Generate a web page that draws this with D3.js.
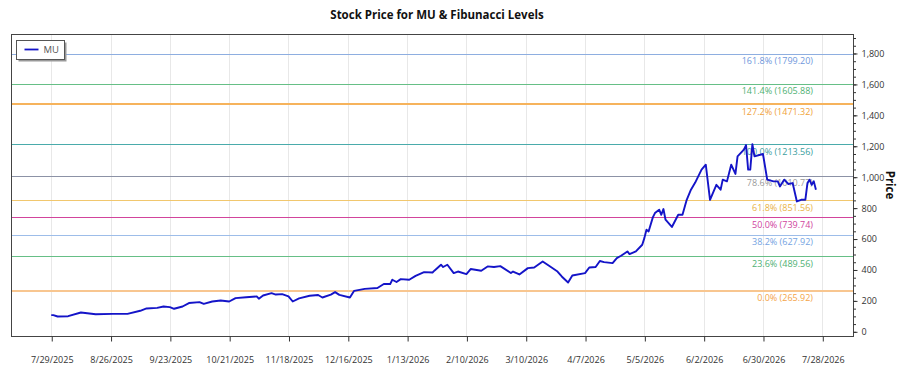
<!DOCTYPE html>
<meta charset="utf-8">
<script src="https://d3js.org/d3.v7.min.js"></script>
<style>
  body { margin: 0; background: #fff; }
  text { font-family: "Open Sans", "Noto Sans", sans-serif; }
</style>
<svg id="chart" width="900" height="375"></svg>
<script>

// price series
const dates = [
  "2025-07-29","2025-07-30","2025-08-01","2025-08-06","2025-08-12","2025-08-19","2025-08-27","2025-09-03",
  "2025-09-09","2025-09-12","2025-09-17","2025-09-20","2025-09-23","2025-09-25","2025-09-29","2025-10-02",
  "2025-10-07","2025-10-09","2025-10-13","2025-10-17","2025-10-21","2025-10-24","2025-10-29","2025-11-03",
  "2025-11-04","2025-11-06","2025-11-10","2025-11-12","2025-11-15","2025-11-18","2025-11-20","2025-11-23",
  "2025-11-28","2025-12-02","2025-12-04","2025-12-08","2025-12-10","2025-12-12","2025-12-17","2025-12-19",
  "2025-12-24","2025-12-30","2026-01-02","2026-01-05","2026-01-06","2026-01-08","2026-01-10","2026-01-14",
  "2026-01-17","2026-01-21","2026-01-25","2026-01-26","2026-01-29","2026-01-30","2026-02-01","2026-02-04",
  "2026-02-06","2026-02-10","2026-02-12","2026-02-17","2026-02-20","2026-02-23","2026-02-26","2026-03-03",
  "2026-03-04","2026-03-07","2026-03-11","2026-03-14","2026-03-18","2026-03-21","2026-03-25","2026-03-27",
  "2026-03-30","2026-04-01","2026-04-07","2026-04-09","2026-04-12","2026-04-14","2026-04-16","2026-04-20",
  "2026-04-22","2026-04-24","2026-04-27","2026-04-28","2026-05-01","2026-05-04","2026-05-05","2026-05-06",
  "2026-05-07","2026-05-09","2026-05-10","2026-05-12","2026-05-13","2026-05-14","2026-05-15","2026-05-18",
  "2026-05-21","2026-05-23","2026-05-25","2026-05-27","2026-05-29","2026-06-01","2026-06-03","2026-06-05",
  "2026-06-08","2026-06-10","2026-06-11","2026-06-13","2026-06-15","2026-06-17","2026-06-18","2026-06-21",
  "2026-06-22","2026-06-23","2026-06-24","2026-06-25","2026-06-26","2026-06-30","2026-07-02","2026-07-05",
  "2026-07-07","2026-07-08","2026-07-10","2026-07-12","2026-07-14","2026-07-16","2026-07-18","2026-07-20",
  "2026-07-21","2026-07-22","2026-07-23","2026-07-24","2026-07-25"
];
const prices = [
  108,108,99,101,125,114,116,116,
  136,151,155,164,160,149,164,186,
  192,181,196,203,196,218,224,229,
  214,235,250,241,244,229,196,216,
  233,238,222,241,257,239,222,265,
  278,283,309,309,337,322,341,337,
  362,386,384,397,434,419,434,380,
  390,373,406,395,423,419,425,380,
  390,371,412,416,455,427,390,358,
  319,364,380,416,419,458,451,444,
  477,492,520,503,520,563,606,660,
  649,740,768,790,757,794,725,678,
  757,757,854,919,965,1049,1081,854,
  951,919,984,973,1081,1021,1135,1178,
  1208,1049,1049,1213.56,1135,1150,984,973,
  973,940,984,956,962,843,854,854,
  962,984,951,973,919
];

// fibonacci levels
const fibRatios = ["161.8%","141.4%","127.2%","100.0%","78.6%","61.8%","50.0%","38.2%","23.6%","0.0%"];
const fibValues = [1799.20,1605.88,1471.32,1213.56,1010.77,851.56,739.74,627.92,489.56,265.92];
const fibLineColors = ["#8eaee0","#66bf86","#f6b35c","#4aabab","#8c92a6","#f1c76e","#d2449c","#9dbde9","#66bf86","#f8c690"];
const fibTextColors = ["#6f98dc","#4fb173","#f0a23a","#3c9e9e","#9a9a9a","#e9b345","#d0449e","#74a3e2","#4fb173","#f4a448"];

// axis ticks
const xTickDates = ["2025-07-29","2025-08-26","2025-09-23","2025-10-21","2025-11-18","2025-12-16",
  "2026-01-13","2026-02-10","2026-03-10","2026-04-07","2026-05-05","2026-06-02","2026-06-30","2026-07-28"];
const yTicks = [0,200,400,600,800,1000,1200,1400,1600,1800];

const parse = d3.timeParse("%Y-%m-%d");
const fmt = d3.timeFormat("%-m/%-d/%Y");
const data = dates.map((d, i) => ({ date: parse(d), price: prices[i] }));

const svg = d3.select("#chart");
const margin = { left: 11, right: 47, top: 34, bottom: 39 };
const width = 900, height = 375;
const plotW = width - margin.left - margin.right;
const plotH = height - margin.top - margin.bottom;

const x = d3.scaleTime()
  .domain([new Date(2025, 6, 10), new Date(2026, 7, 11, 12)])
  .range([margin.left, margin.left + plotW]);
const y = d3.scaleLinear()
  .domain([-27, 1926])
  .range([margin.top + plotH, margin.top]);

// title
svg.append("text")
  .attr("x", 437).attr("y", 19)
  .attr("text-anchor", "middle")
  .style("font-size", "11.5px").style("font-weight", "bold").style("fill", "#111")
  .text("Stock Price for MU & Fibunacci Levels");

// vertical grid
svg.append("g")
  .selectAll("line")
  .data(xTickDates.map(parse))
  .join("line")
    .attr("x1", d => Math.round(x(d)) + 0.5).attr("x2", d => Math.round(x(d)) + 0.5)
    .attr("y1", margin.top).attr("y2", margin.top + plotH)
    .attr("stroke", "#e8e8e8");

// fib lines
const thick = i => i == 2 || i == 9;
const fib = svg.append("g");
fib.selectAll("line")
  .data(fibValues)
  .join("line")
    .attr("x1", margin.left).attr("x2", margin.left + plotW)
    .attr("y1", (d, i) => Math.round(y(d)) + (thick(i) ? 0 : 0.5))
    .attr("y2", (d, i) => Math.round(y(d)) + (thick(i) ? 0 : 0.5))
    .attr("stroke", (d, i) => fibLineColors[i])
    .attr("stroke-width", (d, i) => thick(i) ? 2 : 1);
fib.selectAll("text")
  .data(fibValues)
  .join("text")
    .attr("x", 813).attr("y", d => y(d) + 10.5)
    .attr("text-anchor", "end")
    .style("font-size", "9px")
    .style("fill", (d, i) => fibTextColors[i])
    .text((d, i) => fibRatios[i] + " (" + d.toFixed(2) + ")");

// price line
svg.append("path")
  .datum(data)
  .attr("fill", "none")
  .attr("stroke", "#1414c8")
  .attr("stroke-width", 1.9)
  .attr("stroke-linejoin", "round")
  .attr("d", d3.line().x(d => x(d.date)).y(d => y(d.price)));

// plot border
svg.append("rect")
  .attr("x", margin.left + 0.5).attr("y", margin.top + 0.5)
  .attr("width", plotW).attr("height", plotH)
  .attr("fill", "none").attr("stroke", "#444");

// x axis
const xAxis = svg.append("g")
  .attr("transform", `translate(0.5,${margin.top + plotH + 0.5})`)
  .call(d3.axisBottom(x).tickValues(xTickDates.map(parse)).tickFormat(fmt).tickSize(5).tickSizeOuter(0));
xAxis.select(".domain").remove();
xAxis.selectAll("line").attr("stroke", "#333");
xAxis.selectAll("text").attr("dy", "2.1em").style("font-size", "9px").style("fill", "#333")
  .style("font-family", "'Open Sans', sans-serif");

// y axis on the right, with minor ticks
const yMinor = svg.append("g")
  .attr("transform", `translate(${margin.left + plotW + 0.5},0)`)
  .call(d3.axisRight(y).tickValues(d3.range(0, 1901, 50)).tickSize(2.5).tickFormat(""));
yMinor.select(".domain").remove();
yMinor.selectAll("line").attr("stroke", "#333");

const yAxis = svg.append("g")
  .attr("transform", `translate(${margin.left + plotW + 0.5},0)`)
  .call(d3.axisRight(y).tickValues(yTicks).tickFormat(d3.format(",")).tickSize(4).tickSizeOuter(0));
yAxis.select(".domain").remove();
yAxis.selectAll("line").attr("stroke", "#333");
yAxis.selectAll("text").attr("x", 8).style("font-size", "9px").style("fill", "#333")
  .style("font-family", "'Open Sans', sans-serif");

svg.append("text")
  .attr("transform", `translate(886,${margin.top + plotH / 2}) rotate(90)`)
  .attr("text-anchor", "middle")
  .style("font-size", "11.5px").style("font-weight", "bold").style("fill", "#111")
  .text("Price");

// legend
const legend = svg.append("g").attr("transform", "translate(16.5,40.5)");
legend.append("rect").attr("x", 2).attr("y", 2).attr("width", 48).attr("height", 19).attr("fill", "#999");
legend.append("rect").attr("width", 48).attr("height", 19).attr("fill", "#fff").attr("stroke", "#555");
legend.append("line").attr("x1", 8).attr("x2", 22).attr("y1", 9).attr("y2", 9)
  .attr("stroke", "#1414c8").attr("stroke-width", 1.8);
legend.append("text").attr("x", 27).attr("y", 12.5).style("font-size", "9.5px").style("fill", "#555").text("MU");

</script>
